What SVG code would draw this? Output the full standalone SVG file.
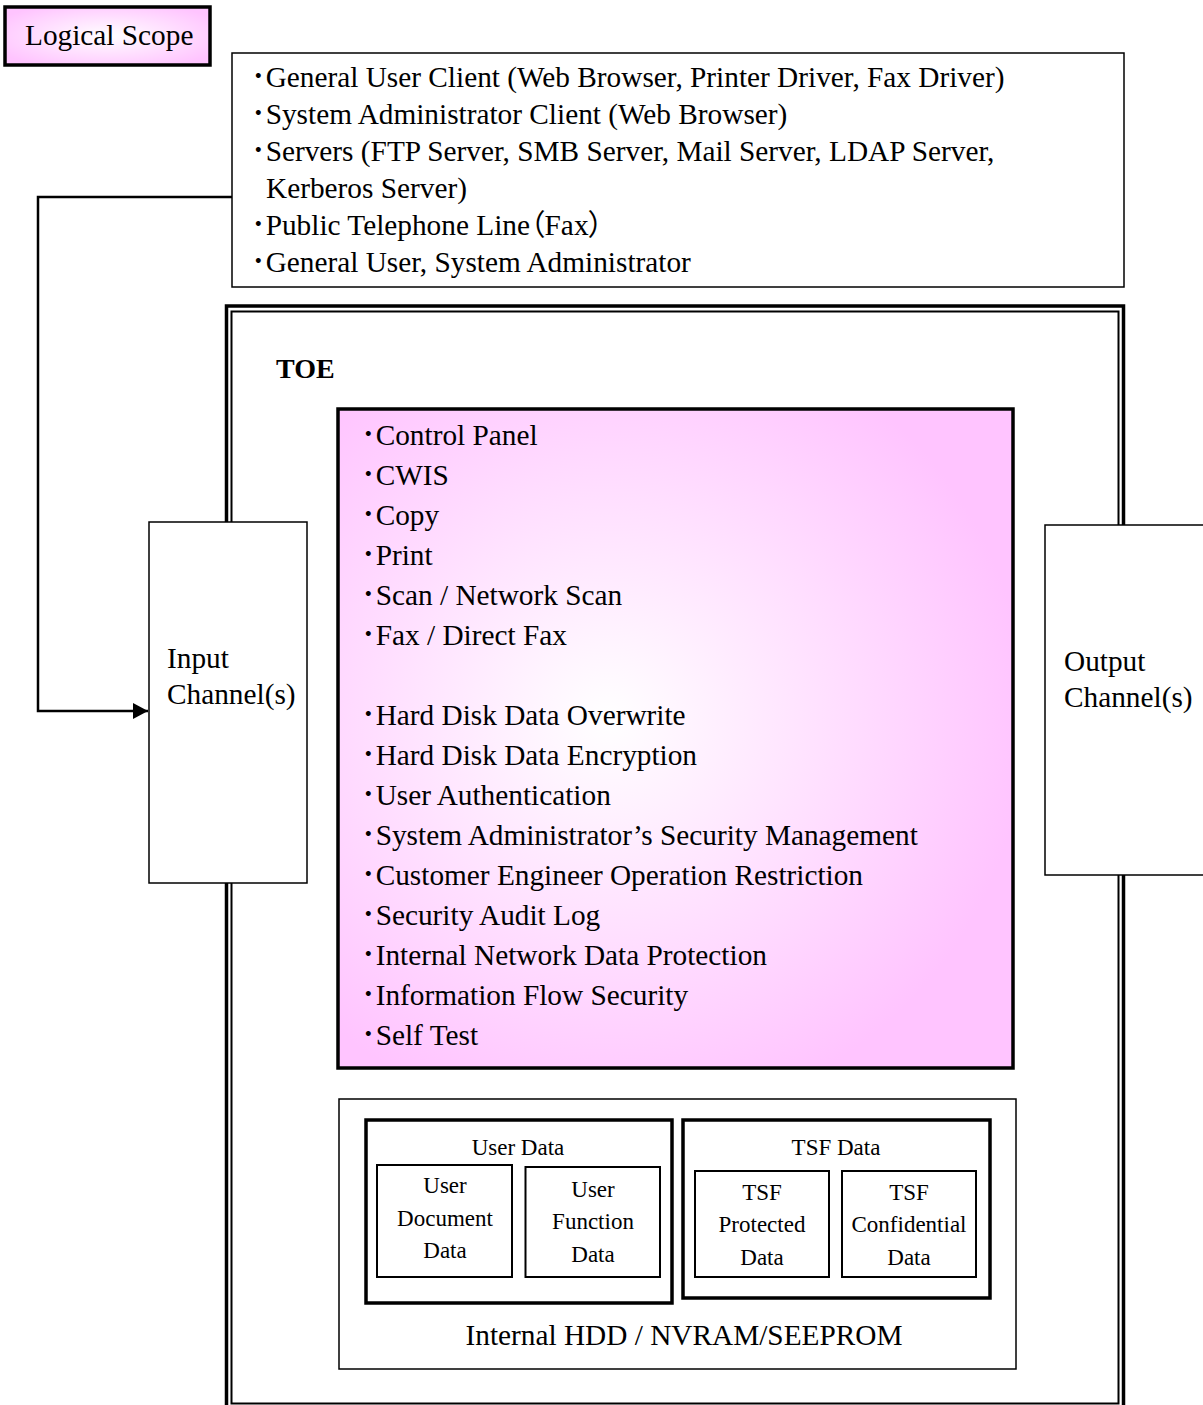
<svg xmlns="http://www.w3.org/2000/svg" width="1203" height="1405" viewBox="0 0 1203 1405">
<style>
text{font-family:"Liberation Serif","Noto Sans CJK JP",serif;fill:#000;}
.t29{font-size:29.3px;}
.t23{font-size:23px;text-anchor:middle;}
.palt{font-feature-settings:"palt" 1;}
.thin{fill:#fff;stroke:#000;stroke-width:1.5;}
.mid{fill:#fff;stroke:#000;stroke-width:2;}
.thick{fill:#fff;stroke:#000;stroke-width:3.5;}
.conn{fill:none;stroke:#000;stroke-width:2.5;}
</style>
<defs>
<radialGradient id="pinkG" cx="0.4" cy="0.47" r="0.62">
<stop offset="0" stop-color="#ffffff"/>
<stop offset="1" stop-color="#ffc4ff"/>
</radialGradient>
<radialGradient id="pinkS" cx="0.5" cy="0.5" r="0.6">
<stop offset="0" stop-color="#ffffff"/>
<stop offset="1" stop-color="#ffc4ff"/>
</radialGradient>
<marker id="arr" markerWidth="16" markerHeight="16" refX="15" refY="8" orient="auto" markerUnits="userSpaceOnUse">
<path d="M0,0 L15,8 L0,16 Z" fill="#000"/>
</marker>
</defs>

<g id="logical-scope">
<rect x="5" y="7" width="205" height="58" fill="url(#pinkS)" stroke="#000" stroke-width="3.5"/>
<text class="t29" x="25" y="45">Logical Scope</text>
</g>

<g id="environment">
<rect class="thin" x="232" y="53" width="892" height="234"/>
<text class="t29" x="251" y="87">･General User Client (Web Browser, Printer Driver, Fax Driver)</text>
<text class="t29" x="251" y="124">･System Administrator Client (Web Browser)</text>
<text class="t29" x="251" y="161">･Servers (FTP Server, SMB Server, Mail Server, LDAP Server,</text>
<text class="t29" x="266" y="198">Kerberos Server)</text>
<text class="t29" x="251" y="235">･Public Telephone Line<tspan class="palt">（</tspan>Fax<tspan class="palt">）</tspan></text>
<text class="t29" x="251" y="272">･General User, System Administrator</text>
</g>

<g id="toe">
<rect x="226.5" y="306" width="897" height="1110" fill="#fff" stroke="#000" stroke-width="3.5"/>
<rect x="231.5" y="311.5" width="887" height="1092" fill="none" stroke="#000" stroke-width="2"/>
<text x="276" y="378" style="font-size:28px;font-weight:bold;">TOE</text>
</g>

<g id="connectors">
<path class="conn" d="M232,197 H38 V711 H148" marker-end="url(#arr)"/>
</g>

<g id="input-channels">
<rect class="thin" x="149" y="522" width="158" height="361"/>
<text class="t29" x="167" y="668">Input</text>
<text class="t29" x="167" y="704">Channel(s)</text>
</g>

<g id="output-channels">
<rect class="thin" x="1045" y="525" width="170" height="350"/>
<text class="t29" x="1064" y="671">Output</text>
<text class="t29" x="1064" y="707">Channel(s)</text>
</g>

<g id="functions">
<rect x="338" y="409" width="675" height="659" fill="url(#pinkG)" stroke="#000" stroke-width="3.5"/>
<text class="t29" x="361" y="445">･Control Panel</text>
<text class="t29" x="361" y="485">･CWIS</text>
<text class="t29" x="361" y="525">･Copy</text>
<text class="t29" x="361" y="565">･Print</text>
<text class="t29" x="361" y="605">･Scan / Network Scan</text>
<text class="t29" x="361" y="645">･Fax / Direct Fax</text>
<text class="t29" x="361" y="725">･Hard Disk Data Overwrite</text>
<text class="t29" x="361" y="765">･Hard Disk Data Encryption</text>
<text class="t29" x="361" y="805">･User Authentication</text>
<text class="t29" x="361" y="845">･System Administrator’s Security Management</text>
<text class="t29" x="361" y="885">･Customer Engineer Operation Restriction</text>
<text class="t29" x="361" y="925">･Security Audit Log</text>
<text class="t29" x="361" y="965">･Internal Network Data Protection</text>
<text class="t29" x="361" y="1005">･Information Flow Security</text>
<text class="t29" x="361" y="1045">･Self Test</text>
</g>

<g id="storage">
<rect class="thin" x="339" y="1099" width="677" height="270"/>
<text class="t29" x="684" y="1345" text-anchor="middle">Internal HDD / NVRAM/SEEPROM</text>
</g>

<g id="user-data">
<rect class="thick" x="366" y="1120" width="306" height="183"/>
<text class="t23" x="518" y="1155">User Data</text>
</g>
<g id="user-document-data">
<rect class="mid" x="377" y="1165" width="135" height="112"/>
<text class="t23" x="445" y="1193">User</text>
<text class="t23" x="445" y="1226">Document</text>
<text class="t23" x="445" y="1258">Data</text>
</g>
<g id="user-function-data">
<rect class="mid" x="525.5" y="1167" width="134.5" height="110"/>
<text class="t23" x="593" y="1197">User</text>
<text class="t23" x="593" y="1229">Function</text>
<text class="t23" x="593" y="1262">Data</text>
</g>

<g id="tsf-data">
<rect class="thick" x="683" y="1120" width="307" height="178"/>
<text class="t23" x="836" y="1155">TSF Data</text>
</g>
<g id="tsf-protected-data">
<rect class="mid" x="695" y="1171" width="134" height="106"/>
<text class="t23" x="762" y="1200">TSF</text>
<text class="t23" x="762" y="1232">Protected</text>
<text class="t23" x="762" y="1265">Data</text>
</g>
<g id="tsf-confidential-data">
<rect class="mid" x="842" y="1171" width="134" height="106"/>
<text class="t23" x="909" y="1200">TSF</text>
<text class="t23" x="909" y="1232">Confidential</text>
<text class="t23" x="909" y="1265">Data</text>
</g>
</svg>
